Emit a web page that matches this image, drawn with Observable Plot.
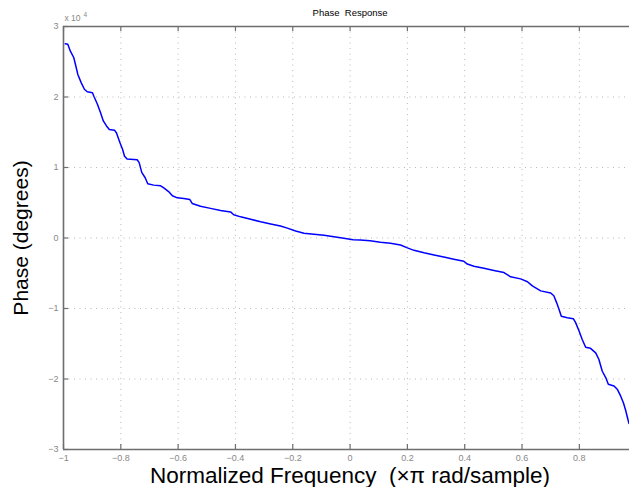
<!DOCTYPE html>
<html>
<head>
<meta charset="utf-8">
<script src="https://cdn.jsdelivr.net/npm/d3@7"></script>
<script src="https://cdn.jsdelivr.net/npm/@observablehq/plot@0.6"></script>
<style>
  html, body { margin: 0; padding: 0; background: #fff; }
  #chart svg { display: block; }
</style>
</head>
<body>
<div id="chart"></div>
<script>
// Normalized frequency (×π rad/sample)
const freq = [
  -0.994, -0.985, -0.976, -0.964, -0.957, -0.950, -0.938, -0.927, -0.917, -0.899,
  -0.894, -0.882, -0.871, -0.861, -0.850, -0.840, -0.822, -0.815, -0.803, -0.794,
  -0.787, -0.778, -0.743, -0.736, -0.727, -0.715, -0.706, -0.685, -0.661, -0.650,
  -0.631, -0.620, -0.603, -0.580, -0.559, -0.551, -0.522, -0.487, -0.452, -0.417,
  -0.406, -0.382, -0.347, -0.312, -0.277, -0.243, -0.219, -0.190, -0.161, -0.126,
  -0.091, -0.056, -0.022, 0.011, 0.035, 0.070, 0.106, 0.141, 0.176, 0.200,
  0.223, 0.258, 0.293, 0.327, 0.362, 0.397, 0.409, 0.432, 0.467, 0.502,
  0.537, 0.560, 0.595, 0.619, 0.636, 0.665, 0.700, 0.711, 0.721, 0.729,
  0.737, 0.758, 0.779, 0.787, 0.799, 0.810, 0.822, 0.839, 0.857, 0.868,
  0.880, 0.892, 0.901, 0.921, 0.933, 0.944, 0.954, 0.962, 0.968, 0.973
];
// Phase (degrees)
const phase = [
  27560, 27470, 26500, 25570, 24400, 23200, 22000, 21100, 20750, 20600,
  20100, 19000, 17800, 16600, 15900, 15400, 15300, 14900, 13500, 12600,
  11600, 11200, 11100, 10700, 9300, 8550, 7700, 7500, 7400, 7100,
  6500, 6000, 5700, 5600, 5450, 4900, 4500, 4200, 3900, 3700,
  3300, 3000, 2650, 2300, 2000, 1700, 1400, 1000, 670, 520,
  380, 180, -40, -240, -300, -400, -600, -750, -1000, -1400,
  -1750, -2100, -2400, -2700, -3000, -3300, -3700, -4000, -4300, -4600,
  -4900, -5500, -5800, -6200, -6800, -7500, -7800, -8200, -9200, -10100,
  -11100, -11300, -11450, -12000, -13200, -14400, -15500, -15650, -16300, -17200,
  -18900, -19800, -20750, -21000, -21500, -22400, -23400, -24500, -25500, -26300
];
const xTicks = [-1, -0.8, -0.6, -0.4, -0.2, 0, 0.2, 0.4, 0.6, 0.8];
const yTicks = [-30000, -20000, -10000, 0, 10000, 20000, 30000];

const data = freq.map((f, i) => ({f, p: phase[i]}));
const axisColor = "#6e6e6e";
const labelColor = "#888";
const gridStyle = {stroke: "#b8b8b8", strokeOpacity: 1, strokeWidth: 1, strokeDasharray: "1,4.5"};
const minus = s => String(s).replace("-", "\u2212");

const chart = Plot.plot({
  width: 629,
  height: 487,
  marginTop: 26,
  marginBottom: 38,
  marginLeft: 63,
  marginRight: 0,
  style: {fontFamily: "'Liberation Sans', Arial, Helvetica, sans-serif", background: "#fff"},
  x: {domain: [-1, 0.975]},
  y: {domain: [-30000, 30000]},
  marks: [
    Plot.gridX(xTicks.slice(1), gridStyle),
    Plot.gridY(yTicks.slice(1, -1), gridStyle),
    Plot.line(data, {x: "f", y: "p", stroke: "#0000ff", strokeWidth: 1.5}),
    // axis box lines
    Plot.ruleX([-1], {stroke: axisColor, strokeWidth: 1.6}),
    Plot.ruleY([-30000, 30000], {stroke: axisColor, strokeWidth: 1.3}),
    // inward tick marks
    Plot.ruleX(xTicks, {y1: -30000, y2: -29300, stroke: axisColor, strokeWidth: 1.2}),
    Plot.ruleX(xTicks, {y1: 30000, y2: 29300, stroke: axisColor, strokeWidth: 1.2}),
    Plot.ruleY(yTicks, {x1: -1, x2: -0.982, stroke: axisColor, strokeWidth: 1.2}),
    // tick labels
    Plot.axisX(xTicks, {tickSize: 0, tickPadding: 5, fontSize: 9, fill: labelColor, label: null,
      tickFormat: d => minus(+d.toFixed(1))}),
    Plot.axisY(yTicks, {tickSize: 0, tickPadding: 5, fontSize: 9, fill: labelColor, label: null,
      tickFormat: d => minus(d / 10000)}),
    // exponent label
    Plot.text(["x 10"], {frameAnchor: "top-left", dx: 1, dy: -8, text: d => d, fontSize: 8.5,
      fill: labelColor, textAnchor: "start", lineAnchor: "middle"}),
    Plot.text(["4"], {frameAnchor: "top-left", dx: 20, dy: -12, text: d => d, fontSize: 6.5,
      fill: labelColor, textAnchor: "start", lineAnchor: "middle"}),
    // title
    Plot.text(["Phase  Response"], {x: () => 0, frameAnchor: "top", dy: -14, text: d => d,
      fontSize: 9.5, fill: "#000", lineAnchor: "middle"}),
    // x label
    Plot.text(["Normalized Frequency  (\u00d7\u03c0 rad/sample)"], {x: () => 0, frameAnchor: "bottom",
      dy: 26, text: d => d, fontSize: 22.5, fill: "#000", lineAnchor: "middle"}),
    // y label
    Plot.text(["Phase (degrees)"], {y: () => 0, frameAnchor: "left", dx: -42, rotate: -90,
      text: d => d, fontSize: 21, fill: "#000", textAnchor: "middle", lineAnchor: "middle"})
  ]
});
document.getElementById("chart").appendChild(chart);
</script>
</body>
</html>
